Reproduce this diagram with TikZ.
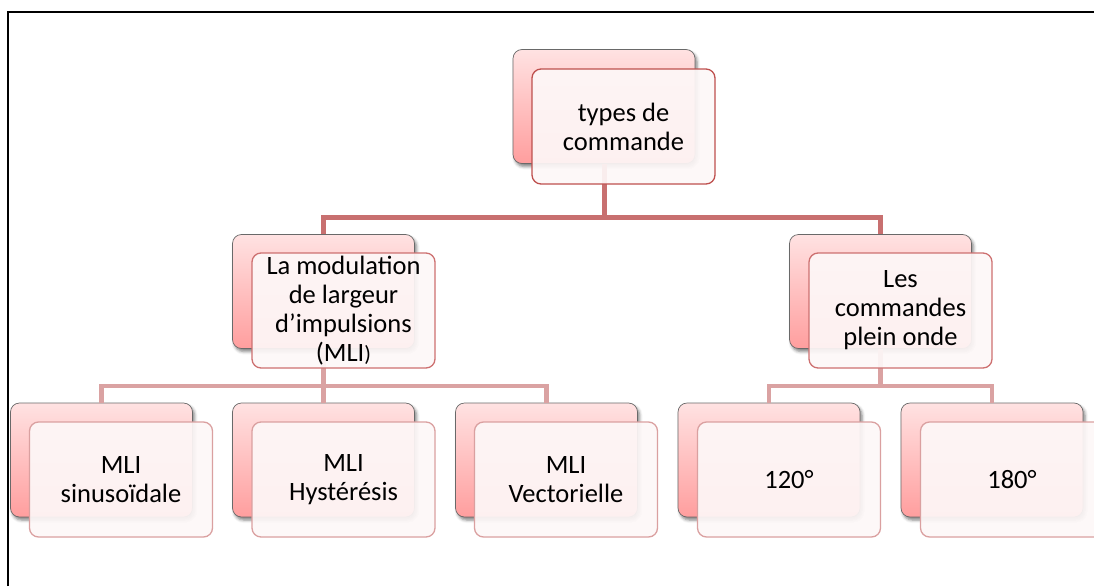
\documentclass[tikz,border=0pt]{standalone}
\usepackage{fontspec}
\setmainfont{Carlito}
\usetikzlibrary{shadows.blur}

\definecolor{pinktop}{RGB}{255,226,226}
\definecolor{pinkbot}{RGB}{255,158,158}
\definecolor{boxgrey}{RGB}{105,105,105}
\definecolor{frontfill}{RGB}{253,247,247}
\definecolor{edgeA}{RGB}{190,80,78}
\definecolor{edgeB}{RGB}{205,112,112}
\definecolor{edgeC}{RGB}{218,160,160}
\definecolor{wireA}{RGB}{200,112,112}
\definecolor{wireB}{RGB}{218,162,162}

\tikzset{
  backbox/.style={rounded corners=9pt, draw=boxgrey, line width=0.7pt,
    top color=pinktop, bottom color=pinkbot,
    minimum width=182pt, minimum height=114pt, inner sep=0pt,
    blur shadow={shadow xshift=2pt, shadow yshift=-3pt,
      shadow blur radius=3pt, shadow opacity=50}},
  frontbox/.style={rounded corners=9pt, fill=frontfill, fill opacity=0.93,
    line width=1.3pt, minimum width=183pt, minimum height=115pt, inner sep=0pt},
  label/.style={align=center, inner sep=0pt,
    font=\fontsize{26.5}{29}\selectfont},
  wire1/.style={draw=wireA, line width=5pt},
  wire2/.style={draw=wireB, line width=4.5pt},
  frame/.style={draw=black, line width=2pt}
}

\begin{document}
\begin{tikzpicture}[x=1pt, y=-1pt]
\useasboundingbox (0,0) rectangle (1094,586);
\begin{scope}
\clip (0,0) rectangle (1094,586);

% open frame on the left and top
\coordinate (fl) at (8,586);
\coordinate (fc) at (8,12);
\coordinate (fr) at (1094,12);
\draw[frame] (fl) -- (fc) -- (fr);

% back (shaded) boxes
\node[backbox] (b0) at (604,106.5) {};
\node[backbox] (b1) at (323.5,291.5) {};
\node[backbox] (b2) at (880.5,291.5) {};
\node[backbox] (b3) at (101.5,460) {};
\node[backbox] (b4) at (323.5,460) {};
\node[backbox] (b5) at (546.5,460) {};
\node[backbox] (b6) at (769,460) {};
\node[backbox] (b7) at (992,460) {};

% bus levels
\coordinate (busA) at (0,217);
\coordinate (busB) at (0,386);

% connectors
\draw[wire1] (b0.south) -- (b0.south |- busA) -| (b1.north);
\draw[wire1] (b0.south |- busA) -| (b2.north);
\draw[wire2] (b1.south) -- (b1.south |- busB) -| (b3.north);
\draw[wire2] (b1.south |- busB) -| (b5.north);
\draw[wire2] (b1.south |- busB) -- (b4.north);
\draw[wire2] (b2.south) -- (b2.south |- busB) -| (b6.north);
\draw[wire2] (b2.south |- busB) -| (b7.north);

% front boxes
\node[frontbox, draw=edgeA] (f0) at (623.5,126.5) {};
\node[frontbox, draw=edgeB] (f1) at (343.5,310.5) {};
\node[frontbox, draw=edgeB] (f2) at (900.5,310.5) {};
\node[frontbox, draw=edgeC] (f3) at (121,479.5) {};
\node[frontbox, draw=edgeC] (f4) at (343.5,479.5) {};
\node[frontbox, draw=edgeC] (f5) at (566,479.5) {};
\node[frontbox, draw=edgeC] (f6) at (789,479.5) {};
\node[frontbox, draw=edgeC] (f7) at (1012,479.5) {};

% texts
\node[label] (t0) at (f0) {types de\\commande};
\node[label] (t1) at (f1) {La modulation\\de largeur\\d’impulsions\\(MLI{\fontsize{22}{29}\selectfont)}};
\node[label] (t2) at (f2) {Les\\commandes\\plein onde};
\node[label] (t3) at (f3) {MLI\\sinusoïdale};
\node[label] (t4) at (f4) {MLI\\Hystérésis};
\node[label] (t5) at (f5) {MLI\\Vectorielle};
\node[label] (t6) at (f6) {120°};
\node[label] (t7) at (f7) {180°};
\end{scope}
\end{tikzpicture}
\end{document}
